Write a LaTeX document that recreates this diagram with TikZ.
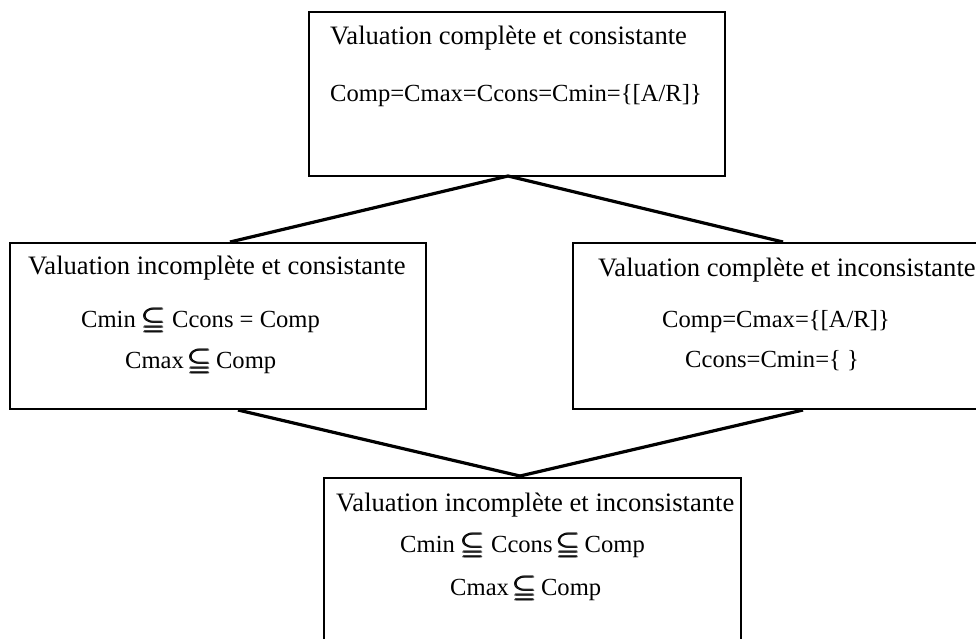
\documentclass[tikz,border=0pt]{standalone}
\usepackage{amsmath}
\usepackage{amssymb}
\usepackage{graphicx}
\usepackage{fontspec}
\setmainfont{Liberation Serif}
\newcommand{\sq}{\scalebox{1.25}[1.0]{$\pmb{\subseteqq}$}}
\begin{document}
\begin{tikzpicture}[x=1pt,y=-1pt,
  box/.style={draw,line width=2.2pt,rectangle,inner sep=0pt,anchor=north west},
  conn/.style={line width=3.2pt},
  txt/.style={anchor=base west,inner sep=0pt,font=\fontsize{26.6}{31}\selectfont},
  ftxt/.style={anchor=base west,inner sep=0pt,font=\fontsize{24.6}{29}\selectfont}]
\useasboundingbox (0,0) rectangle (976,639);
% boxes
\node[box,minimum width=416pt,minimum height=164pt] (top) at (308,11) {};
\node[box,minimum width=416pt,minimum height=166pt] (left) at (9,242) {};
\node[box,minimum width=420pt,minimum height=166pt] (right) at (572,242) {};
\node[box,minimum width=417pt,minimum height=190pt] (bottom) at (323,477) {};
% texts
\node[txt] (t1) at (330,45) {Valuation complète et consistante};
\node[ftxt] (t2) at (330,102) {Comp=Cmax=Ccons=Cmin=\{[A/R]\}};
\node[txt] (l1) at (28,274) {Valuation incomplète et consistante};
\node[ftxt] (l2) at (81,327) {Cmin \sq{} Ccons = Comp};
\node[ftxt] (l3) at (125,368) {Cmax\,\sq\,Comp};
\node[txt] (r1) at (598,276) {Valuation complète et inconsistante};
\node[ftxt] (r2) at (662,327) {Comp=Cmax=\{[A/R]\}};
\node[ftxt] (r3) at (685,367) {Ccons=Cmin=\{ \}};
\node[txt] (b1) at (336,511) {Valuation incomplète et inconsistante};
\node[ftxt] (b2) at (400,552) {Cmin \sq{} Ccons\,\sq\,Comp};
\node[ftxt] (b3) at (450,595) {Cmax\,\sq\,Comp};
% connection points
\coordinate (apex) at (508,176);
\coordinate (lt) at (230,242);
\coordinate (rt) at (783,242);
\coordinate (lb) at (238,410);
\coordinate (rb) at (803,410);
\coordinate (bt) at (520,476);
\draw[conn] (lt) -- (apex) -- (rt);
\draw[conn] (lb) -- (bt) -- (rb);
\end{tikzpicture}
\end{document}
